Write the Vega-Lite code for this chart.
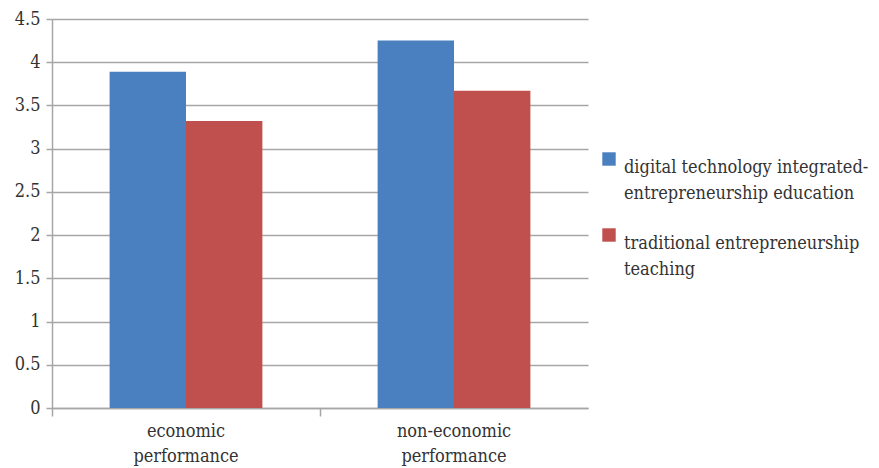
{
  "$schema": "https://vega.github.io/schema/vega-lite/v6.json",
  "width": 536,
  "height": 389,
  "autosize": {"type": "none"},
  "padding": {"left": 52, "top": 19, "right": 291, "bottom": 60},
  "background": "white",
  "config": {
    "view": {"stroke": null},
    "font": "DejaVu Serif Condensed",
    "style": {"guide-label": {"lineHeight": 26}}
  },
  "data": {
    "values": [
      {"category": "economic performance", "series": "digital technology integrated-entrepreneurship education", "value": 3.89},
      {"category": "economic performance", "series": "traditional entrepreneurship teaching", "value": 3.32},
      {"category": "non-economic performance", "series": "digital technology integrated-entrepreneurship education", "value": 4.25},
      {"category": "non-economic performance", "series": "traditional entrepreneurship teaching", "value": 3.67}
    ]
  },
  "mark": {"type": "bar"},
  "encoding": {
    "x": {
      "field": "category",
      "type": "nominal",
      "sort": null,
      "scale": {"paddingInner": 0.43, "paddingOuter": 0.215},
      "axis": {
        "title": null,
        "labelAngle": 0,
        "labelExpr": "split(datum.label, ' ')",
        "labelFontSize": 18,
        "labelColor": "#333333",
        "labelLineHeight": 25,
        "labelPadding": 6,
        "bandPosition": -0.376,
        "domainColor": "#a6a6a6",
        "domainWidth": 1.5,
        "tickColor": "#a6a6a6",
        "tickWidth": 1.5,
        "tickSize": 8
      }
    },
    "xOffset": {"field": "series", "type": "nominal", "sort": null, "scale": {"paddingInner": 0, "paddingOuter": 0}},
    "y": {
      "field": "value",
      "type": "quantitative",
      "scale": {"domain": [0, 4.5], "nice": false},
      "axis": {
        "title": null,
        "values": [0, 0.5, 1, 1.5, 2, 2.5, 3, 3.5, 4, 4.5],
        "format": "~g",
        "labelFontSize": 18,
        "labelColor": "#333333",
        "labelPadding": 6,
        "gridColor": "#a6a6a6",
        "gridWidth": 1.5,
        "domainColor": "#a6a6a6",
        "domainWidth": 1.5,
        "tickColor": "#a6a6a6",
        "tickWidth": 1.5,
        "tickSize": 6
      }
    },
    "color": {
      "field": "series",
      "type": "nominal",
      "sort": null,
      "scale": {"range": ["#4A80BF", "#C0504D"]},
      "legend": {
        "title": null,
        "orient": "none",
        "legendX": 548,
        "legendY": 131,
        "symbolType": "square",
        "symbolSize": 180,
        "symbolStrokeWidth": 0,
        "symbolOpacity": 1,
        "labelFontSize": 18,
        "labelColor": "#333333",
        "labelLimit": 400,
        "labelOffset": 6,
        "rowPadding": 23,
        "labelBaseline": "top",
        "labelExpr": "datum.label == 'traditional entrepreneurship teaching' ? ['traditional entrepreneurship', 'teaching'] : ['digital technology integrated-', 'entrepreneurship education']"
      }
    }
  }
}
